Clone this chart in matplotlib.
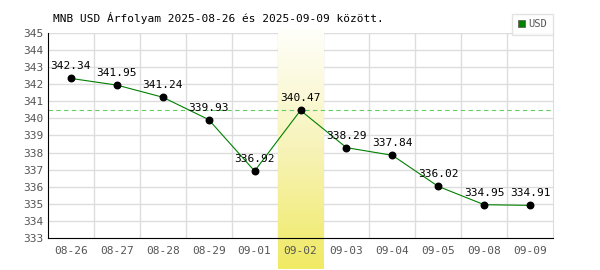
import matplotlib
matplotlib.use("Agg")
import matplotlib.pyplot as plt
import numpy as np
from matplotlib.colors import LinearSegmentedColormap

dates = ["08-26", "08-27", "08-28", "08-29", "09-01", "09-02",
         "09-03", "09-04", "09-05", "09-08", "09-09"]
rates = [342.34, 341.95, 341.24, 339.93, 336.92, 340.47,
         338.29, 337.84, 336.02, 334.95, 334.91]
highlight = "09-02"
y_ticks = list(range(333, 346))

plt.rcParams["font.family"] = "DejaVu Sans Mono"

fig = plt.figure(figsize=(6, 2.7), dpi=100)
ax = fig.add_axes([0.08, 0.1185, 0.8417, 0.7593])

x = np.arange(len(dates))
hi = dates.index(highlight)

# grid drawn by hand so the highlight column can sit on top of it
for gx in x[:-1] + 0.5:
    ax.axvline(gx, color="#dddddd", lw=1, zorder=0.3)
for gy in y_ticks[1:]:
    ax.axhline(gy, color="#dddddd", lw=1, zorder=0.3)

# yellow gradient column behind the chosen day
cmap = LinearSegmentedColormap.from_list("hl", ["#fffffa", "#f7f3b8", "#f0ea64"])
grad = np.linspace(0, 1, 100).reshape(-1, 1)
ax.imshow(grad, cmap=cmap, aspect="auto", origin="upper",
          extent=(hi - 0.5, hi + 0.5, 331.2, 345.2), zorder=0.8, clip_on=False)

ax.set_xlim(-0.5, len(dates) - 0.5)
ax.set_ylim(333, 345)

ax.set_xticks(x)
ax.set_xticklabels(dates)
ax.set_yticks(y_ticks)
ax.tick_params(which="both", length=0, colors="#555555", labelsize=8)
ax.tick_params(axis="x", pad=6)
ax.tick_params(axis="y", pad=3)

ax.spines["top"].set_visible(False)
ax.spines["right"].set_color("#dddddd")
ax.spines["left"].set_color("black")
ax.spines["bottom"].set_color("black")

ax.axhline(rates[hi], color="#66cc66", lw=0.8, ls=(0, (4, 3)), zorder=1)

ax.plot(x, rates, color="#008000", lw=0.8, zorder=2)
ax.scatter(x, rates, s=22, color="black", zorder=3)
for xi, v in zip(x, rates):
    ax.annotate(f"{v:.2f}", (xi, v), xytext=(0, 5), textcoords="offset points",
                ha="center", va="bottom", fontsize=8, color="black", zorder=4)

fig.text(0.088, 0.935, "MNB USD Árfolyam 2025-08-26 és 2025-09-09 között.",
         fontsize=8, color="black", ha="left", va="center")

leg = ax.legend(handles=[plt.Rectangle((0, 0), 1, 1, fc="#008000", ec="#555555", lw=0.5)],
                labels=["USD"], loc="lower right", bbox_to_anchor=(1.0, 0.99),
                fontsize=7.5, frameon=True, fancybox=False, handlelength=0.7,
                handleheight=0.7, handletextpad=0.3, borderpad=0.55, borderaxespad=0)
leg.get_frame().set_edgecolor("#dddddd")
leg.get_frame().set_linewidth(1)
for t in leg.get_texts():
    t.set_color("#555555")

fig.savefig("out.png", dpi=100)
